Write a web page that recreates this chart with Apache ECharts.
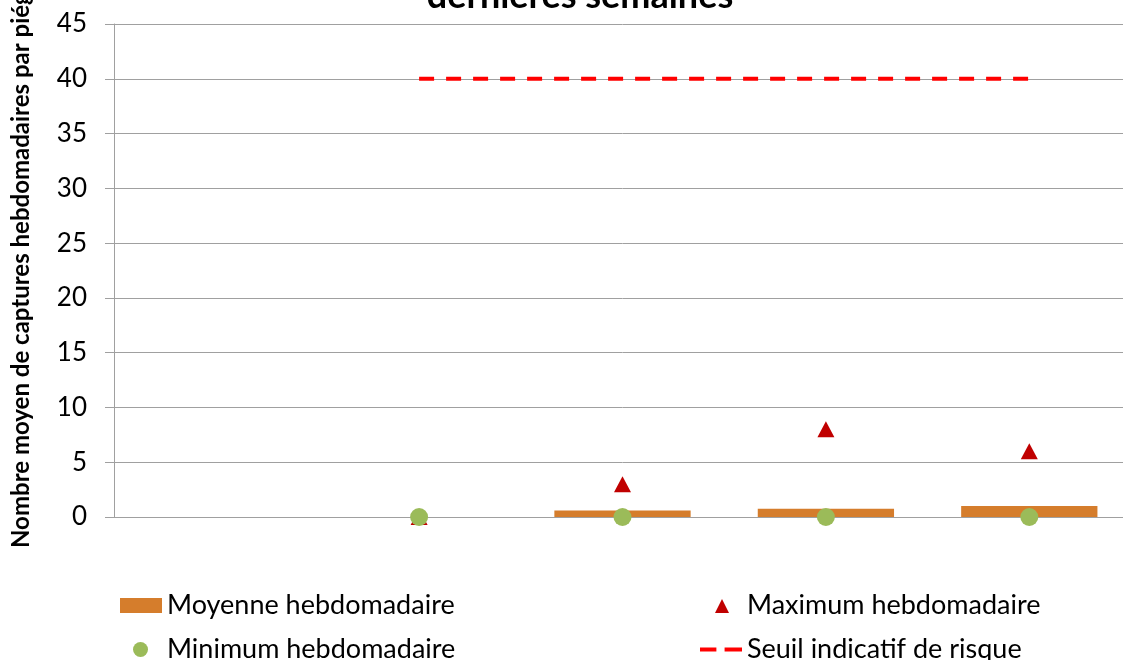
<!DOCTYPE html>
<html>
<head>
<meta charset="utf-8">
<script src="https://cdn.jsdelivr.net/npm/echarts@6/dist/echarts.min.js"></script>
<style>
html,body{margin:0;padding:0;background:#fff;overflow:hidden;width:1123px;height:660px;}
#chart{width:1131px;height:660px;}
</style>
</head>
<body>
<div id="chart"></div>
<script>
var categories = ['S1', 'S2', 'S3', 'S4', 'S5'];
var moyenne = [null, 0, 0.6, 0.75, 1.0];
var maximum = [null, 0, 3, 8, 6];
var minimum = [null, 0, 0, 0, 0];
var seuil = [null, 40, 40, 40, 40];
var yTicks = { min: 0, max: 45, interval: 5 };
var titleText = 'dernières semaines';
var yName = 'Nombre moyen de captures hebdomadaires par piége';

var FONT = 'Lato';
var legendText = { fontFamily: FONT, fontSize: 27, color: '#000', lineHeight: 24 };
var BOX = 'M0,0L0,0M42,15L42,15';
function mkLegend(left, top, item) {
  return {
    orient: 'horizontal', left: left, top: top, padding: 0,
    itemWidth: 42, itemHeight: 15, itemGap: 0,
    textStyle: legendText,
    data: [item]
  };
}
var chart = echarts.init(document.getElementById('chart'));
chart.setOption({
  backgroundColor: '#ffffff',
  animation: false,
  title: {
    text: titleText,
    left: 575,
    textAlign: 'center',
    top: -27,
    textStyle: { fontFamily: FONT, fontWeight: 'bold', fontSize: 36, color: '#000' }
  },
  graphic: [{
    type: 'text',
    x: 21, y: 548,
    rotation: Math.PI / 2,
    style: {
      text: yName,
      fontFamily: FONT, fontWeight: 'bold', fontSize: 24,
      fill: '#000', textAlign: 'left', textVerticalAlign: 'middle'
    }
  }],
  grid: { left: 114, top: 24, right: 0, height: 493 },
  legend: [
    mkLegend(120, 592, { name: 'Moyenne hebdomadaire', icon: 'rect' }),
    mkLegend(120, 636, { name: 'Minimum hebdomadaire',
      icon: 'path://' + BOX + 'M13,7.5A7.5,7.5 0 1 1 28,7.5A7.5,7.5 0 1 1 13,7.5Z',
      itemStyle: { color: '#9BBB59', borderWidth: 0 } }),
    mkLegend(700, 592, { name: 'Maximum hebdomadaire',
      icon: 'path://' + BOX + 'M22,1L29,15L15,15Z',
      itemStyle: { color: '#C00000', borderWidth: 0 } }),
    mkLegend(700, 636, { name: 'Seuil indicatif de risque',
      icon: 'path://M0,0h16v4h-16zM24,0h17v4h-17z',
      itemStyle: { color: '#FF0000', borderWidth: 0 } })
  ],
  xAxis: {
    type: 'category',
    data: categories,
    boundaryGap: true,
    axisLine: { lineStyle: { color: '#A0A0A0', width: 1 } },
    axisTick: { show: false },
    axisLabel: { show: false },
    splitLine: { show: false }
  },
  yAxis: {
    type: 'value',
    min: yTicks.min, max: yTicks.max, interval: yTicks.interval,
    axisLine: { show: true, lineStyle: { color: '#A0A0A0', width: 1 } },
    axisTick: { show: true, length: 9, lineStyle: { color: '#A0A0A0' } },
    axisLabel: { fontFamily: FONT, fontSize: 26, color: '#000', margin: 27 },
    splitLine: { lineStyle: { color: '#A0A0A0', width: 1 } }
  },
  series: [{
    name: 'Moyenne hebdomadaire',
    type: 'bar',
    data: moyenne,
    barWidth: '67%',
    itemStyle: { color: '#D57D2C' },
    z: 2
  }, {
    name: 'Maximum hebdomadaire',
    type: 'scatter',
    data: maximum,
    symbol: 'triangle',
    symbolSize: [17, 16],
    itemStyle: { color: '#C00000', opacity: 1 },
    z: 3
  }, {
    name: 'Minimum hebdomadaire',
    type: 'scatter',
    data: minimum,
    symbol: 'circle',
    symbolSize: 18,
    itemStyle: { color: '#9BBB59', opacity: 1 },
    z: 4
  }, {
    name: 'Seuil indicatif de risque',
    type: 'line',
    data: seuil,
    symbol: 'none',
    lineStyle: { color: '#FF0000', width: 4, type: [15, 12] },
    itemStyle: { color: '#FF0000' },
    z: 5
  }]
});
</script>
</body>
</html>
